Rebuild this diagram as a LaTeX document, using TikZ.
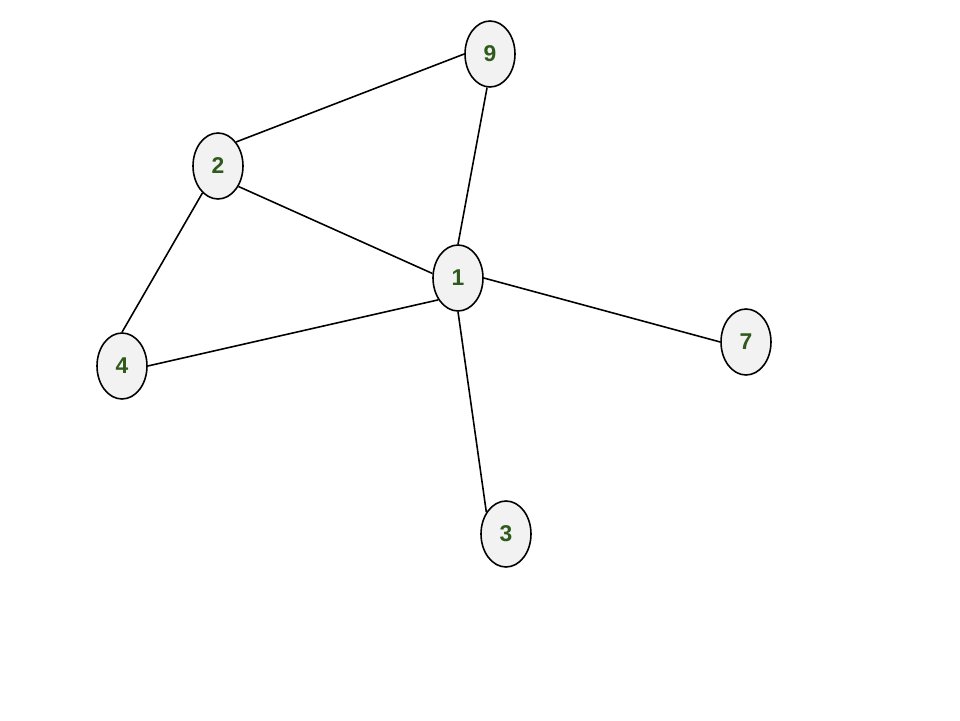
\documentclass[tikz,border=0pt]{standalone}
\usepackage{fontspec}
\setmainfont{Liberation Sans}
\usetikzlibrary{shapes.geometric}
\definecolor{vtxfill}{HTML}{F2F2F2}
\definecolor{vtxtext}{HTML}{2E5A1C}

\begin{document}
\begin{tikzpicture}[x=0.02cm, y=-0.02cm,
    vertex/.style={draw, ellipse, fill=vtxfill, line width=0.9pt, minimum width=1cm, minimum height=1.32cm, inner sep=0pt, text=vtxtext, font=\fontsize{13}{15}\selectfont\bfseries},
    edge/.style={line width=0.9pt}]
				\useasboundingbox (0,0) rectangle (960,720);
				% Вершины графа
				\node[vertex] (n9) at (490,54) {9};
				\node[vertex] (n2) at (218,166) {2};
				\node[vertex] (n1) at (458,278) {1};
				\node[vertex] (n4) at (122,366) {4};
				\node[vertex] (n7) at (746,342) {7};
				\node[vertex] (n3) at (506,534) {3};
				
				% Рёбра
				\draw[edge] (n9.west) -- (n2.53);
				\draw[edge] (n9.-95) -- (n1.north);
				\draw[edge] (n2.-45) -- (n1.170);
				\draw[edge] (n2.-120) -- (n4.north);
				\draw[edge] (n4.east) -- (n1.-132);
				\draw[edge] (n1.east) -- (n7.west);
				\draw[edge] (n1.south) -- (n3.132);
			\end{tikzpicture}
\end{document}
